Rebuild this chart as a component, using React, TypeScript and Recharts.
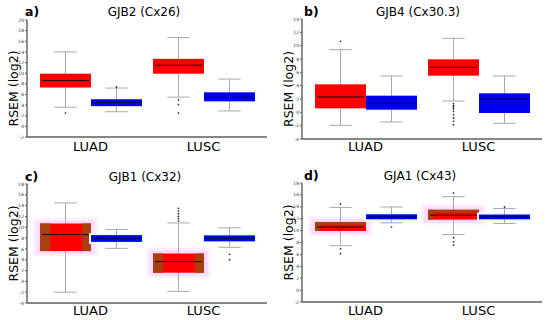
import React from "react";
import { BarChart, Bar, XAxis, YAxis } from "recharts";

const groups = ["LUAD", "LUSC"];

// box stats per group: [low whisker, q1, median, q3, high whisker]
const gjb2Tumor = [[3.6, 7.3, 8.6, 9.9, 14.0], [5.5, 9.9, 11.5, 12.7, 16.7]];
const gjb2Normal = [[2.75, 3.8, 4.5, 5.1, 7.2], [2.9, 4.7, 5.5, 6.4, 8.9]];
const gjb2TumorOut = [[2.5], [5.0, 4.1, 2.5]];
const gjb2NormalOut = [[7.4], []];
const gjb2Ticks = [-2, 0, 2, 4, 6, 8, 10, 12, 14, 16, 18, 20];

const gjb4Tumor = [[-1.95, 0.6, 2.3, 4.2, 9.4], [1.7, 5.5, 6.75, 7.95, 11.1]];
const gjb4Normal = [[-1.45, 0.4, 1.4, 2.5, 5.45], [-1.65, -0.1, 2.0, 2.85, 5.45]];
const gjb4TumorOut = [[10.65], [1.3, 1.0, 0.8, 0.5, 0.15, -0.35, -0.85, -1.35, -1.85]];
const gjb4NormalOut = [[], []];
const gjb4Ticks = [-4, -2, 0, 2, 4, 6, 8, 10, 12, 14];

const gjb1Tumor = [[-2.0, 5.6, 8.65, 10.7, 14.5], [-1.85, 1.6, 3.65, 5.15, 10.8]];
const gjb1Normal = [[6.1, 7.3, 7.9, 8.55, 9.6], [6.3, 7.4, 7.9, 8.5, 9.9]];
const gjb1TumorOut = [[], [13.5, 13.0, 12.5, 12.0, 11.6, 11.2]];
const gjb1NormalOut = [[], [5.0, 4.0]];
const gjb1Ticks = [-4, -2, 0, 2, 4, 6, 8, 10, 12, 14, 16, 18];

const gja1Tumor = [[7.47, 9.93, 10.6, 11.45, 13.9], [9.33, 11.85, 12.6, 13.5, 15.7]];
const gja1Normal = [[11.3, 11.9, 12.3, 12.74, 13.97], [11.2, 11.9, 12.3, 12.7, 13.7]];
const gja1TumorOut = [[14.47, 6.96, 6.12], [16.3, 8.8, 8.1, 7.55]];
const gja1NormalOut = [[10.6], [13.97]];
const gja1Ticks = [-2, 0, 2, 4, 6, 8, 10, 12, 14, 16, 18];

const FONT = "'DejaVu Sans', Verdana, sans-serif";
const FRAME = "#5e5e5e";

function buildRows(tumor: number[][], normal: number[][], tumorOut: number[][], normalOut: number[][]) {
  return groups.map((g, i) => ({
    group: g,
    tumorRange: [tumor[i][0], tumor[i][4]],
    normalRange: [normal[i][0], normal[i][4]],
    tumor: tumor[i],
    normal: normal[i],
    tumorOut: tumorOut[i],
    normalOut: normalOut[i],
  }));
}

type Glow = "sides" | "corner" | "cyan" | null;

function makeShape(statsKey: string, outKey: string, color: string, medianColor: string, glow: Glow) {
  return (props: any) => {
    const { x, y, width, height, payload } = props;
    const s: number[] = payload[statsKey];
    const out: number[] = payload[outKey] || [];
    const top = Math.min(y, y + height);
    const bot = Math.max(y, y + height);
    const py = (v: number) => bot - ((v - s[0]) / (s[4] - s[0])) * (bot - top);
    const cx = x + width / 2;
    const yq1 = py(s[1]);
    const yq3 = py(s[3]);
    const ymed = py(s[2]);
    const boxH = yq1 - yq3;
    const cap = width * 0.22;
    const brown = "#a8400c";
    return (
      <g>
        {(glow === "sides" || glow === "corner") && (
          <g>
            <rect x={x - 7} y={yq3 - 6} width={width + 14} height={boxH + 11} fill="#fff0ff" />
            <rect x={x - 4} y={yq3 - 3} width={width + 8} height={boxH + 6} fill="#ffdcff" />
          </g>
        )}
        {glow === "cyan" && (
          <rect x={x - 2} y={yq3 - 2} width={width + 4} height={boxH + 4} fill="#e8ffff" />
        )}
        <line x1={cx} x2={cx} y1={py(s[4])} y2={yq3} stroke="#a8a8a8" strokeWidth={1} />
        <line x1={cx} x2={cx} y1={yq1} y2={py(s[0])} stroke="#a8a8a8" strokeWidth={1} />
        <line x1={cx - cap} x2={cx + cap} y1={py(s[4])} y2={py(s[4])} stroke="#a8a8a8" strokeWidth={1} />
        <line x1={cx - cap} x2={cx + cap} y1={py(s[0])} y2={py(s[0])} stroke="#a8a8a8" strokeWidth={1} />
        <rect x={x} y={yq3} width={width} height={boxH} fill={color} />
        {glow === "sides" && (
          <g>
            <rect x={x} y={yq3} width={width * 0.2} height={boxH} fill={brown} />
            <rect x={x + width * 0.83} y={yq3} width={width * 0.17} height={boxH} fill={brown} />
          </g>
        )}
        {glow === "corner" && (
          <g>
            <rect x={x} y={yq3} width={width} height={boxH * 0.3} fill={brown} />
            <rect x={x} y={yq3} width={width * 0.11} height={boxH} fill={brown} />
          </g>
        )}
        <line x1={x + 2} x2={x + width - 2} y1={ymed} y2={ymed} stroke={medianColor} strokeWidth={1} />
        {out.map((v, i) => (
          <circle key={i} cx={cx} cy={py(v)} r={0.9} fill="#333" />
        ))}
      </g>
    );
  };
}

function AxisLabel(props: any) {
  const { viewBox, shift } = props;
  const cx = viewBox.x + 6;
  const cy = viewBox.y + viewBox.height / 2 + shift;
  return (
    <text
      x={cx}
      y={cy}
      transform={`rotate(-90 ${cx} ${cy})`}
      textAnchor="middle"
      dominantBaseline="central"
      fontSize={12.5}
      fontFamily={FONT}
      fill="#000"
    >
      RSEM (log2)
    </text>
  );
}

const panels = [
  {
    id: "a", letter: "a)", title: "GJB2 (Cx26)", left: 0, top: 0,
    margin: { top: 20, right: 8, bottom: 3, left: 7 }, xHeight: 20, tickMargin: 5,
    domain: [-2, 20], ticks: gjb2Ticks, labelShift: 10, titleX: 144, titleY: 12, letterX: 25,
    tumorGlow: null as Glow, normalGlow: null as Glow,
    rows: buildRows(gjb2Tumor, gjb2Normal, gjb2TumorOut, gjb2NormalOut),
  },
  {
    id: "b", letter: "b)", title: "GJB4 (Cx30.3)", left: 275, top: 0,
    margin: { top: 19, right: 8, bottom: 3, left: 7 }, xHeight: 18, tickMargin: 3,
    domain: [-4, 14], ticks: gjb4Ticks, labelShift: 10, titleX: 143, titleY: 12, letterX: 29,
    tumorGlow: null as Glow, normalGlow: null as Glow,
    rows: buildRows(gjb4Tumor, gjb4Normal, gjb4TumorOut, gjb4NormalOut),
  },
  {
    id: "c", letter: "c)", title: "GJB1 (Cx32)", left: 0, top: 160,
    margin: { top: 24, right: 8, bottom: 3, left: 7 }, xHeight: 14, tickMargin: 3,
    domain: [-4, 18], ticks: gjb1Ticks, labelShift: 0, titleX: 145, titleY: 16.5, letterX: 25,
    tumorGlow: "sides" as Glow, normalGlow: "cyan" as Glow,
    rows: buildRows(gjb1Tumor, gjb1Normal, gjb1TumorOut, gjb1NormalOut),
  },
  {
    id: "d", letter: "d)", title: "GJA1 (Cx43)", left: 275, top: 160,
    margin: { top: 23, right: 8, bottom: 3, left: 7 }, xHeight: 15, tickMargin: 4,
    domain: [-2, 18], ticks: gja1Ticks, labelShift: 0, titleX: 145, titleY: 16, letterX: 29,
    tumorGlow: "corner" as Glow, normalGlow: "cyan" as Glow,
    rows: buildRows(gja1Tumor, gja1Normal, gja1TumorOut, gja1NormalOut),
  },
];

function Panel({ p }: { p: (typeof panels)[number] }) {
  return (
    <div style={{ position: "absolute", left: p.left, top: p.top, width: 275, height: 160 }}>
      <div
        style={{
          position: "absolute", left: p.titleX - 120, width: 240, top: p.titleY - 8,
          lineHeight: "16px", fontSize: 12, fontFamily: FONT, textAlign: "center", color: "#000",
        }}
      >
        {p.title}
      </div>
      <div
        style={{
          position: "absolute", left: p.letterX, top: p.titleY - 8, lineHeight: "16px",
          fontSize: 12.5, fontWeight: "bold", fontFamily: FONT, color: "#000",
        }}
      >
        {p.letter}
      </div>
      <BarChart width={275} height={160} data={p.rows} margin={p.margin} barSize={51} barGap={0}>
        <XAxis
          dataKey="group"
          padding={{ left: 7, right: 7 }}
          height={p.xHeight}
          tickLine={false}
          tickSize={0}
          tickMargin={p.tickMargin}
          tick={{ fontSize: 13, fill: "#000", fontFamily: FONT }}
          axisLine={{ stroke: FRAME, strokeWidth: 1.4 }}
        />
        <XAxis
          xAxisId="top"
          orientation="top"
          dataKey="group"
          height={0}
          tick={false}
          tickLine={false}
          axisLine={{ stroke: FRAME, strokeWidth: 1.4 }}
        />
        <YAxis
          type="number"
          domain={p.domain}
          ticks={p.ticks}
          interval={0}
          width={20}
          tickSize={2}
          tickMargin={1}
          tick={{ fontSize: 4.5, fill: "#333", fontFamily: FONT }}
          tickLine={{ stroke: FRAME }}
          axisLine={{ stroke: FRAME, strokeWidth: 1.4 }}
          label={<AxisLabel shift={p.labelShift} />}
        />
        <YAxis
          yAxisId="right"
          orientation="right"
          type="number"
          domain={p.domain}
          width={0}
          tick={false}
          tickLine={false}
          axisLine={{ stroke: FRAME, strokeWidth: 1.4 }}
        />
        <Bar
          dataKey="tumorRange"
          isAnimationActive={false}
          shape={makeShape("tumor", "tumorOut", "#ff0000", "#1a0000", p.tumorGlow)}
        />
        <Bar
          dataKey="normalRange"
          isAnimationActive={false}
          shape={makeShape("normal", "normalOut", "#0000ee", "#000055", p.normalGlow)}
        />
      </BarChart>
    </div>
  );
}

export default function App() {
  return (
    <div style={{ position: "absolute", left: 0, top: 0, width: 550, height: 320, background: "#fff" }}>
      {panels.map((p) => (
        <Panel key={p.id} p={p} />
      ))}
    </div>
  );
}
